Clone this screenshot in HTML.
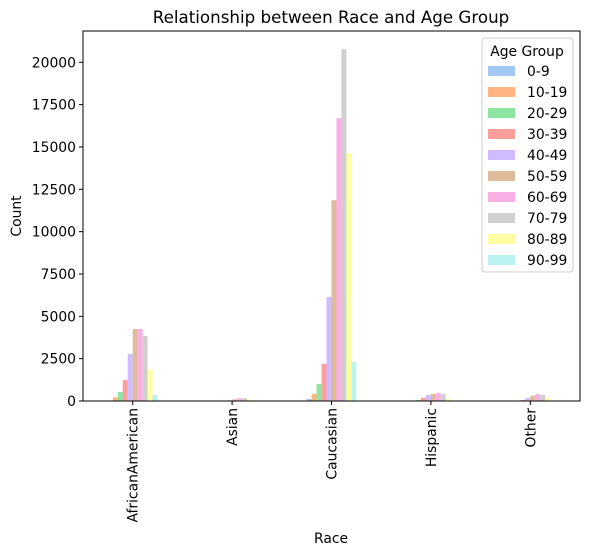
<!DOCTYPE html>
<html><head><meta charset="utf-8"><style>
html,body{margin:0;padding:0;background:#fff;}
svg{display:block;font-family:"DejaVu Sans","Liberation Sans",sans-serif;}
</style></head><body>
<svg id="chart" width="589" height="555" viewBox="0 0 589 555" xmlns="http://www.w3.org/2000/svg">
<text x="331" y="23" font-size="16.7" text-anchor="middle">Relationship between Race and Age Group</text>
<g id="bars"></g>
<g id="axes"></g>
<text x="331" y="543" font-size="13.9" text-anchor="middle">Race</text>
<text transform="translate(21,216) rotate(-90)" font-size="13.9" text-anchor="middle">Count</text>
<g id="legend"></g>
</svg>
<script>
const categories = ["AfricanAmerican","Asian","Caucasian","Hispanic","Other"];
const ageGroups = ["0-9","10-19","20-29","30-39","40-49","50-59","60-69","70-79","80-89","90-99"];
const sAfricanAmerican = [20,220,530,1240,2770,4250,4250,3830,1830,350];
const sAsian = [0,5,10,20,40,100,160,160,100,20];
const sCaucasian = [120,410,1000,2190,6140,11860,16700,20770,14630,2300];
const sHispanic = [10,15,60,180,350,410,470,410,100,20];
const sOther = [5,10,20,60,180,310,410,350,180,30];
const yTicks = [0,2500,5000,7500,10000,12500,15000,17500,20000];
const colors = ["#a1c9f4","#ffb482","#8de5a1","#ff9f9b","#d0bbff","#debb9b","#fab0e4","#cfcfcf","#fffea3","#b9f2f0"];
const series = [sAfricanAmerican,sAsian,sCaucasian,sHispanic,sOther];

const NS="http://www.w3.org/2000/svg";
const L=83,R=580,T=31,B=401;
const yScale=v=>B-v*(B-62.3)/20000;
const band=(R-L)/categories.length;
const xCenter=i=>L+band*(i+0.5);
const bw=band*0.5/ageGroups.length;
function mk(tag,attrs,parent){const e=document.createElementNS(NS,tag);for(const k in attrs)e.setAttribute(k,attrs[k]);parent.appendChild(e);return e;}

const gb=document.getElementById('bars');
series.forEach((vals,ci)=>{
  vals.forEach((v,ai)=>{
    const x=xCenter(ci)-band*0.25+ai*bw;
    const y=yScale(v);
    const r=mk('rect',{x:x,y:y,width:bw,height:B-y,fill:colors[ai]},gb);
    
    
  });
});

const ga=document.getElementById('axes');
const frame=mk('rect',{x:L,y:T,width:R-L,height:B-T,fill:'none',stroke:'#000','stroke-width':1},ga);


yTicks.forEach(t=>{
  const y=yScale(t);
  mk('line',{x1:L-4,x2:L,y1:y,y2:y,stroke:'#000'},ga);
  const tx=mk('text',{x:L-7,y:y+5,'font-size':13.9,'text-anchor':'end'},ga);
  tx.textContent=t;
  
  
});
categories.forEach((c,i)=>{
  const x=xCenter(i);
  mk('line',{x1:x,x2:x,y1:B,y2:B+4,stroke:'#000'},ga);
  const tx=mk('text',{transform:`translate(${x+5},${B+7}) rotate(-90)`,'font-size':13.9,'text-anchor':'end'},ga);
  tx.textContent=c;
  
  
});

const gl=document.getElementById('legend');
const box=mk('rect',{x:482,y:38,width:91,height:234,rx:3,fill:'#fff','fill-opacity':0.8,stroke:'#ccc'},gl);


const lt=mk('text',{x:527,y:56,'font-size':13.9,'text-anchor':'middle'},gl);
lt.textContent='Age Group';


ageGroups.forEach((a,i)=>{
  const y=71+i*21;
  const g=mk('g',{},gl);
  
  
  mk('rect',{x:488,y:y-5,width:27,height:10,fill:colors[i]},g);
  const t=mk('text',{x:527,y:y+5,'font-size':13.9},g);
  t.textContent=a;
});
</script>
</body></html>
